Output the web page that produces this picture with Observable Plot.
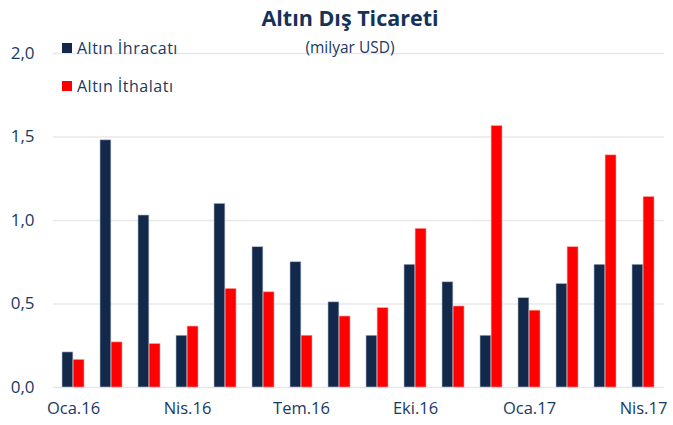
<!DOCTYPE html>
<html><head><meta charset="utf-8">
<script src="https://cdn.jsdelivr.net/npm/d3@7"></script>
<script src="https://cdn.jsdelivr.net/npm/@observablehq/plot@0.6"></script>
<style>
body{margin:0;background:#fff;font-family:"Open Sans",sans-serif;}
#wrap{position:relative;width:673px;height:425px;}
.t{position:absolute;color:#173a63;white-space:nowrap;line-height:1;}
#title{left:250px;width:200px;top:7px;text-align:center;font-weight:bold;font-size:21.5px;color:#14325a;}
#sub{left:250px;width:200px;top:40px;text-align:center;font-size:15.5px;}
.lg{font-size:16px;left:62px;letter-spacing:0.5px;}
.sw{display:inline-block;width:10px;height:10px;margin-right:5px;vertical-align:1px;}
</style></head>
<body><div id="wrap"></div>
<script>
const months = ["Oca.16","Şub.16","Mar.16","Nis.16","May.16","Haz.16","Tem.16","Ağu.16","Eyl.16","Eki.16","Kas.16","Ara.16","Oca.17","Şub.17","Mar.17","Nis.17"];
const ihracat = [0.21,1.48,1.03,0.31,1.10,0.84,0.75,0.51,0.31,0.735,0.63,0.31,0.535,0.62,0.735,0.735];
const ithalat = [0.165,0.27,0.26,0.365,0.59,0.57,0.31,0.425,0.475,0.95,0.485,1.565,0.46,0.84,1.39,1.14];
const seriesNames = ["Altın İhracatı","Altın İthalatı"];
const colors = ["#13294b","#ff0000"];
const xTicks = ["Oca.16","Nis.16","Tem.16","Eki.16","Oca.17","Nis.17"];
const yTicks = [0,0.5,1,1.5,2];

const W = 673, H = 425, mL = 53, mR = 9, mT = 53, mB = 38;
const padIn = 0.42, padOut = 0.18;
const half = d3.scaleBand().domain(months).range([mL, W - mR]).paddingInner(padIn).paddingOuter(padOut).bandwidth() / 2;

const exp = months.map((m,i)=>({month:m, value:ihracat[i], series:seriesNames[0]}));
const imp = months.map((m,i)=>({month:m, value:ithalat[i], series:seriesNames[1]}));

const fmt = d => d.toFixed(1).replace(".", ",");

const chart = Plot.plot({
  width:W, height:H,
  marginTop:mT, marginBottom:mB, marginLeft:mL, marginRight:mR,
  style:{fontFamily:'"Open Sans",sans-serif', color:"#173a63", background:"#fff"},
  x:{domain:months, paddingInner:padIn, paddingOuter:padOut, axis:null},
  y:{domain:[0,2], axis:null},
  marks:[
    Plot.gridY(yTicks, {stroke:"#e8e8e8", strokeOpacity:1, strokeWidth:1.5}),
    Plot.axisY(yTicks, {tickSize:0, tickPadding:19, tickFormat:fmt, fontSize:17, label:null}),
    Plot.axisX(xTicks, {tickSize:0, tickPadding:15, fontSize:16.5, label:null}),
    Plot.barY(exp, {x:"month", y:"value", fill:colors[0], insetRight:half, stroke:"#b8c0cc", strokeWidth:0.6}),
    Plot.barY(imp, {x:"month", y:"value", fill:colors[1], insetLeft:half, stroke:"#ff9a9a", strokeWidth:0.6})
  ]
});
const wrap = document.getElementById("wrap");
wrap.appendChild(chart);
const add=(id,cls,html,top)=>{const d=document.createElement("div");if(id)d.id=id;d.className="t "+(cls||"");d.innerHTML=html;if(top!=null)d.style.top=top+"px";wrap.appendChild(d);};
add("title","","Altın Dış Ticareti");
add("sub","","(milyar USD)");
add(null,"lg",`<span class="sw" style="background:${colors[0]}"></span>${seriesNames[0]}`,40);
add(null,"lg",`<span class="sw" style="background:${colors[1]}"></span>${seriesNames[1]}`,78);
</script></body></html>
